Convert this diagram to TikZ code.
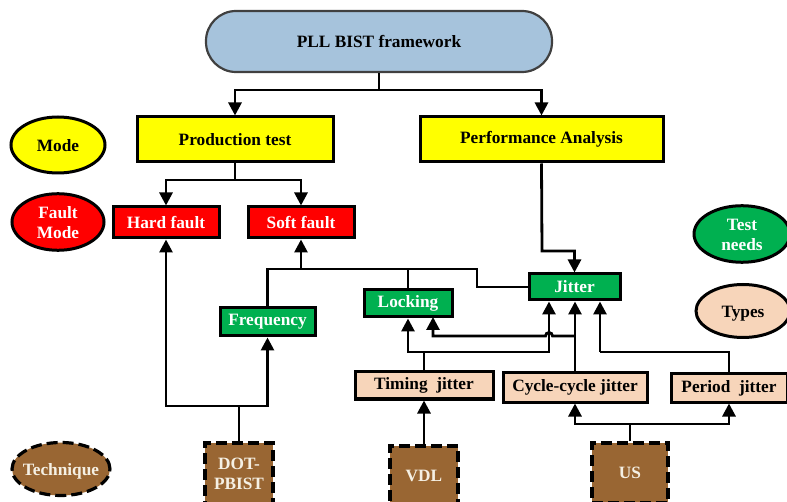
\documentclass[tikz,border=0pt]{standalone}
\usepackage{fontspec}
\setmainfont{Liberation Serif}
\usetikzlibrary{arrows.meta,shapes.geometric}
\definecolor{pblue}{RGB}{166,195,220}
\definecolor{pyellow}{RGB}{255,255,0}
\definecolor{pred}{RGB}{255,0,0}
\definecolor{pgreen}{RGB}{0,176,80}
\definecolor{ppeach}{RGB}{247,213,186}
\definecolor{pbrown}{RGB}{153,102,51}
\definecolor{pcream}{RGB}{245,240,228}
\definecolor{pgray}{RGB}{64,64,64}
\newcommand{\zwtext}[1]{\raisebox{-2.5pt}[\height][\depth]{\makebox[0pt]{\begin{tabular}{@{}c@{}}#1\end{tabular}}}}
\begin{document}
\begin{tikzpicture}[x=1pt,y=-1pt,
  lbl/.style={font=\fontsize{17.3}{20}\selectfont\bfseries,align=center,inner sep=0pt},
  box/.style={lbl,draw=black,line width=3pt,rectangle},
  oval/.style={lbl,draw=black,line width=3pt,ellipse},
  dashbox/.style={lbl,draw=black,line width=3.2pt,dash pattern=on 11pt off 5pt,rectangle,fill=pbrown,text=pcream},
  yel/.style={fill=pyellow,text=black},
  redf/.style={fill=pred,text=white},
  grn/.style={fill=pgreen,text=white},
  pch/.style={fill=ppeach,text=black},
  wire/.style={line width=2.8pt,draw=black},
  arr/.style={wire,-{Triangle[length=13pt,width=13pt]}}
]
\useasboundingbox (0,0) rectangle (787,502);
\clip (0,0) rectangle (787,502);
\fill[white] (0,0) rectangle (787,502);

% nodes
\node[lbl,draw=pgray,line width=2.2pt,fill=pblue,rounded corners=30pt,minimum width=346pt,minimum height=61pt] (top) at (379,41.5) {PLL BIST framework};
\node[box,yel,minimum width=196pt,minimum height=45pt] (prod) at (235,139.5) {Production test};
\node[box,yel,minimum width=243pt,minimum height=45pt] (perf) at (541.5,139.5) {Performance Analysis};
\node[box,redf,minimum width=106pt,minimum height=31pt] (hard) at (166,222.5) {Hard fault};
\node[box,redf,minimum width=106pt,minimum height=31pt] (soft) at (301,222.5) {Soft fault};
\node[box,grn,minimum width=95pt,minimum height=28pt] (freq) at (267.5,322) {Frequency};
\node[box,grn,minimum width=88pt,minimum height=27pt] (lock) at (408,303.5) {Locking};
\node[box,grn,minimum width=91pt,minimum height=26pt] (jit) at (574.5,287) {Jitter};
\node[box,pch,minimum width=138pt,minimum height=27pt] (timing) at (424,385.5) {Timing\ \ jitter};
\node[box,pch,minimum width=144pt,minimum height=29pt] (cycle) at (575,387.5) {Cycle-cycle jitter};
\node[box,pch,minimum width=116pt,minimum height=28pt] (period) at (729,388) {Period\ \ jitter};
\node[dashbox,minimum width=68pt,minimum height=62pt] (dot) at (239,474) {DOT-\\PBIST};
\node[dashbox,minimum width=68pt,minimum height=60pt] (vdl) at (424,476) {VDL};
\node[dashbox,minimum width=76pt,minimum height=60pt] (us) at (630,473) {US};

\node[oval,yel,minimum width=94pt,minimum height=56pt] (mode) at (58,145) {\zwtext{Mode}};
\node[oval,redf,minimum width=92pt,minimum height=54pt] (fmode) at (58,222) {\zwtext{Fault\\Mode}};
\node[oval,grn,minimum width=96pt,minimum height=54pt] (tneeds) at (742,234) {\zwtext{Test\\needs}};
\node[oval,pch,minimum width=94pt,minimum height=53pt] (types) at (743,311) {\zwtext{Types}};
\node[lbl,draw=black,line width=3.2pt,dash pattern=on 11pt off 5pt,ellipse,fill=pbrown,text=pcream,minimum width=98pt,minimum height=53pt] (tech) at (61,469) {\zwtext{Technique}};

% junction coordinates
\coordinate (b1) at (379,90);
\coordinate (b2) at (235,180);
\coordinate (b3) at (542,251);
\coordinate (b4) at (301,269);
\coordinate (b5) at (477,269);
\coordinate (b6) at (239,406);
\coordinate (b7) at (630,424);
\coordinate (b8) at (424,352);
\coordinate (b9) at (600,352);
\coordinate (b10) at (575,336);
\coordinate (j1) at ([xshift=-25.5pt]jit.south);
\coordinate (j3) at ([xshift=25.5pt]jit.south);

% connectors
\draw[wire] (top.south) -- (b1);
\draw[arr] (b1) -| (prod.north);
\draw[arr] (b1) -| (perf.north);
\draw[wire] (prod.south) -- (b2);
\draw[arr] (b2) -| (hard.north);
\draw[arr] (b2) -| (soft.north);
\draw[arr] (perf.south) -- (b3) -| (jit.north);
\draw[wire] (jit.west) -| (b5) -- (freq.north |- b5) -- (freq.north);
\draw[wire] (lock.north) -- (lock.north |- b5);
\draw[arr] (b4) -- (soft.south);
\draw[wire] (dot.north) -- (b6);
\draw[arr] (b6) -| (hard.south);
\draw[arr] (b6) -| (freq.south);
\draw[arr] (vdl.north) -- (timing.south);
\draw[wire] (us.north) -- (b7);
\draw[arr] (b7) -| (cycle.south);
\draw[arr] (b7) -| (period.south);
\draw[wire] (timing.north) -- (b8);
\draw[arr] (b8) -| (lock.south);
\draw[arr] (b8) -| (j1);
\draw[arr] (cycle.north) -- (cycle.north |- jit.south);
\draw[arr] (b10) -- (552.5,336) arc (0:180:3.5pt) -- (433,336) -- (433,317);
\draw[wire] (period.north) |- (b9);
\draw[arr] (b9) -- (j3);
\end{tikzpicture}
\end{document}
